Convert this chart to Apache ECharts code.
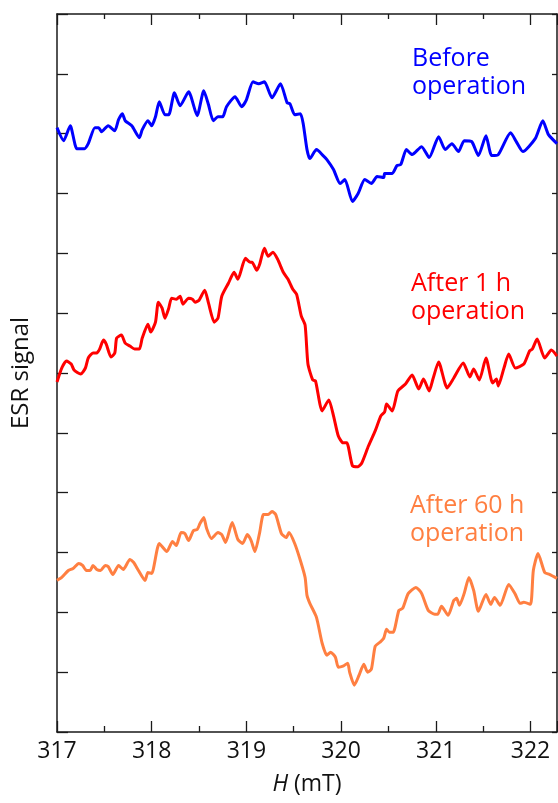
<!DOCTYPE html>
<html>
<head>
<meta charset="utf-8">
<script src="https://cdn.jsdelivr.net/npm/echarts@6/dist/echarts.min.js"></script>
<style>
  html, body { margin: 0; padding: 0; background: #fff; }
  #chart { width: 558px; height: 803px; }
</style>
</head>
<body>
<div id="chart"></div>
<script>
// field H (mT) and ESR signal (arbitrary units, traces offset vertically)
var hBefore = [317.00, 317.07, 317.14, 317.21, 317.29, 317.33, 317.40, 317.44, 317.47, 317.54, 317.61, 317.65, 317.69, 317.72, 317.79, 317.87, 317.90, 317.96, 318.00, 318.04, 318.08, 318.14, 318.18, 318.24, 318.30, 318.39, 318.48, 318.55, 318.60, 318.65, 318.70, 318.75, 318.79, 318.88, 318.95, 319.00, 319.07, 319.13, 319.19, 319.27, 319.36, 319.43, 319.46, 319.51, 319.57, 319.60, 319.64, 319.67, 319.74, 319.81, 319.85, 319.92, 319.99, 320.04, 320.12, 320.18, 320.25, 320.32, 320.38, 320.45, 320.46, 320.54, 320.59, 320.63, 320.69, 320.75, 320.85, 320.93, 321.03, 321.10, 321.17, 321.24, 321.30, 321.38, 321.45, 321.53, 321.59, 321.66, 321.79, 321.85, 321.92, 322.05, 322.13, 322.19, 322.28];
var sigBefore = [606, 593, 608, 585, 585, 590, 606, 606, 602, 608, 603, 614, 620, 613, 608, 596, 604, 613, 608, 617, 632, 619, 619, 641, 628, 642, 618, 643, 629, 613, 617, 617, 627, 637, 627, 634, 652, 650, 652, 636, 650, 631, 630, 619, 620, 610, 584, 575, 584, 578, 574, 564, 550, 554, 532, 540, 554, 550, 557, 556, 560, 560, 568, 569, 584, 579, 587, 576, 597, 584, 590, 582, 593, 592, 578, 598, 578, 579, 601, 592, 582, 595, 613, 599, 590];

var h1h = [317.00, 317.05, 317.10, 317.15, 317.18, 317.25, 317.30, 317.33, 317.38, 317.42, 317.45, 317.49, 317.52, 317.57, 317.61, 317.63, 317.68, 317.72, 317.77, 317.82, 317.87, 317.90, 317.96, 317.99, 318.04, 318.07, 318.11, 318.14, 318.18, 318.21, 318.26, 318.30, 318.33, 318.39, 318.43, 318.46, 318.50, 318.56, 318.60, 318.66, 318.70, 318.74, 318.81, 318.87, 318.91, 318.99, 319.04, 319.06, 319.11, 319.14, 319.19, 319.23, 319.28, 319.33, 319.39, 319.44, 319.49, 319.53, 319.58, 319.62, 319.65, 319.70, 319.73, 319.80, 319.87, 319.92, 319.97, 320.02, 320.06, 320.12, 320.18, 320.22, 320.29, 320.36, 320.42, 320.46, 320.48, 320.54, 320.60, 320.68, 320.75, 320.82, 320.87, 320.93, 320.97, 321.03, 321.12, 321.19, 321.29, 321.36, 321.40, 321.46, 321.53, 321.60, 321.64, 321.66, 321.72, 321.77, 321.84, 321.93, 321.99, 322.02, 322.07, 322.15, 322.22, 322.28];
var sig1h = [351, 365, 372, 369, 363, 359, 365, 375, 380, 380, 384, 393, 389, 376, 380, 395, 398, 390, 387, 384, 384, 395, 409, 401, 411, 431, 425, 415, 425, 435, 434, 437, 429, 435, 434, 431, 433, 443, 430, 411, 415, 437, 450, 461, 454, 475, 471, 471, 463, 469, 485, 477, 481, 474, 461, 454, 444, 439, 417, 408, 369, 353, 352, 322, 333, 317, 297, 290, 290, 267, 266, 270, 287, 302, 317, 321, 329, 322, 342, 349, 358, 344, 354, 342, 354, 371, 345, 355, 370, 356, 364, 353, 375, 350, 354, 347, 365, 379, 365, 369, 382, 384, 394, 375, 383, 377];

var h60h = [317.00, 317.05, 317.12, 317.17, 317.23, 317.27, 317.31, 317.35, 317.38, 317.42, 317.46, 317.51, 317.54, 317.59, 317.65, 317.70, 317.77, 317.81, 317.86, 317.93, 317.96, 318.00, 318.08, 318.16, 318.22, 318.26, 318.31, 318.35, 318.39, 318.44, 318.48, 318.51, 318.55, 318.58, 318.63, 318.70, 318.74, 318.78, 318.85, 318.91, 318.96, 319.01, 319.05, 319.09, 319.14, 319.18, 319.23, 319.27, 319.31, 319.37, 319.42, 319.45, 319.51, 319.57, 319.62, 319.64, 319.67, 319.74, 319.80, 319.85, 319.89, 319.94, 319.97, 320.02, 320.07, 320.09, 320.14, 320.19, 320.24, 320.28, 320.32, 320.36, 320.41, 320.45, 320.48, 320.51, 320.55, 320.61, 320.65, 320.71, 320.79, 320.85, 320.92, 320.99, 321.02, 321.06, 321.13, 321.19, 321.22, 321.25, 321.30, 321.35, 321.40, 321.45, 321.53, 321.58, 321.62, 321.68, 321.77, 321.84, 321.89, 321.93, 322.00, 322.03, 322.08, 322.15, 322.20, 322.28];
var sig60h = [152, 155, 162, 164, 169, 167, 162, 162, 167, 163, 162, 167, 166, 158, 167, 163, 173, 170, 162, 152, 160, 159, 189, 181, 191, 187, 200, 199, 192, 202, 203, 209, 215, 204, 194, 200, 198, 190, 210, 193, 189, 198, 192, 181, 200, 218, 218, 221, 218, 199, 195, 200, 189, 172, 155, 137, 129, 115, 89, 77, 80, 75, 65, 66, 69, 60, 47, 57, 68, 60, 63, 86, 90, 94, 103, 100, 100, 122, 124, 139, 145, 139, 122, 118, 118, 126, 117, 132, 134, 127, 139, 155, 142, 121, 138, 128, 135, 127, 148, 138, 129, 130, 128, 162, 179, 160, 158, 154];

var xTicks = [317, 318, 319, 320, 321, 322];

var labels = [
  { lines: ['Before', 'operation'], color: '#0000FF', left: 412, top: 45 },
  { lines: ['After 1 h', 'operation'], color: '#FF0000', left: 411, top: 270 },
  { lines: ['After 60 h', 'operation'], color: '#FF7F41', left: 410, top: 492 }
];

function pairs(xs, ys) {
  var out = []
  for (var i = 0; i < xs.length; i++) {
    out.push([xs[i], ys[i]])
  }
  return out
}

var FONT = '"Open Sans", "Noto Sans", sans-serif'
var AXIS_COLOR = '#1a1a1a'

var chart = echarts.init(document.getElementById('chart'), null, { renderer: 'canvas' })

var xBase = {
  type: 'value',
  min: xTicks[0],
  max: 322.28,
  interval: 1,
  axisLine: { show: true, onZero: false, lineStyle: { color: AXIS_COLOR, width: 1.5 } },
  axisTick: { show: true, inside: true, length: 11, lineStyle: { color: AXIS_COLOR, width: 1.3 } },
  minorTick: { show: true, splitNumber: 2, length: 6, lineStyle: { color: AXIS_COLOR, width: 1.3 } },
  splitLine: { show: false }
}

chart.setOption({
  animation: false,
  grid: { left: 57, right: 1, top: 14, bottom: 71, containLabel: false },
  xAxis: [
    Object.assign({}, xBase, {
      position: 'bottom',
      name: '{i|H} (mT)',
      nameLocation: 'middle',
      nameGap: 41,
      nameTextStyle: {
        fontFamily: FONT, fontSize: 23, color: '#111',
        rich: { i: { fontStyle: 'italic', fontFamily: FONT, fontSize: 23, color: '#111' } }
      },
      axisLabel: {
        show: true,
        margin: 8,
        fontFamily: FONT,
        fontSize: 23,
        color: '#111',
        showMaxLabel: false,
        formatter: function (v) {
          return xTicks.indexOf(Math.round(v * 100) / 100) >= 0 ? String(Math.round(v)) : ''
        }
      }
    }),
    Object.assign({}, xBase, {
      position: 'top',
      axisLabel: { show: false },
      axisTick: { show: true, inside: true, length: 11, lineStyle: { color: AXIS_COLOR, width: 1.3 } },
      minorTick: { show: true, splitNumber: 2, length: 5, lineStyle: { color: AXIS_COLOR, width: 1.3 } }
    })
  ],
  yAxis: [
    {
      type: 'value',
      position: 'left',
      min: 0,
      max: 720,
      interval: 60,
      name: 'ESR signal',
      nameLocation: 'middle',
      nameGap: 24,
      nameTextStyle: { fontFamily: FONT, fontSize: 24, color: '#111' },
      axisLine: { show: true, onZero: false, lineStyle: { color: AXIS_COLOR, width: 1.5 } },
      axisTick: { show: true, inside: true, length: 11, lineStyle: { color: AXIS_COLOR, width: 1.3 } },
      axisLabel: { show: false },
      splitLine: { show: false }
    },
    {
      type: 'value',
      position: 'right',
      min: 0,
      max: 720,
      interval: 60,
      axisLine: { show: true, onZero: false, lineStyle: { color: AXIS_COLOR, width: 1.5 } },
      axisTick: { show: true, inside: true, length: 5, lineStyle: { color: AXIS_COLOR, width: 1.3 } },
      axisLabel: { show: false },
      splitLine: { show: false }
    }
  ],
  series: [
    {
      name: 'Before operation', type: 'line', xAxisIndex: 0, yAxisIndex: 0,
      data: pairs(hBefore, sigBefore), showSymbol: false, smooth: 0.2,
      lineStyle: { color: '#0000FF', width: 3 }
    },
    {
      name: 'After 1 h operation', type: 'line', xAxisIndex: 0, yAxisIndex: 0,
      data: pairs(h1h, sig1h), showSymbol: false, smooth: 0.2,
      lineStyle: { color: '#FF0000', width: 3 }
    },
    {
      name: 'After 60 h operation', type: 'line', xAxisIndex: 0, yAxisIndex: 0,
      data: pairs(h60h, sig60h), showSymbol: false, smooth: 0.2,
      lineStyle: { color: '#FF7F41', width: 3 }
    }
  ],
  graphic: labels.map(function (l) {
    return {
      type: 'text',
      left: l.left,
      top: l.top,
      style: {
        text: l.lines.join('\n'),
        fill: l.color,
        fontFamily: FONT,
        fontSize: 25,
        lineHeight: 28
      }
    }
  })
})
</script>
</body>
</html>
